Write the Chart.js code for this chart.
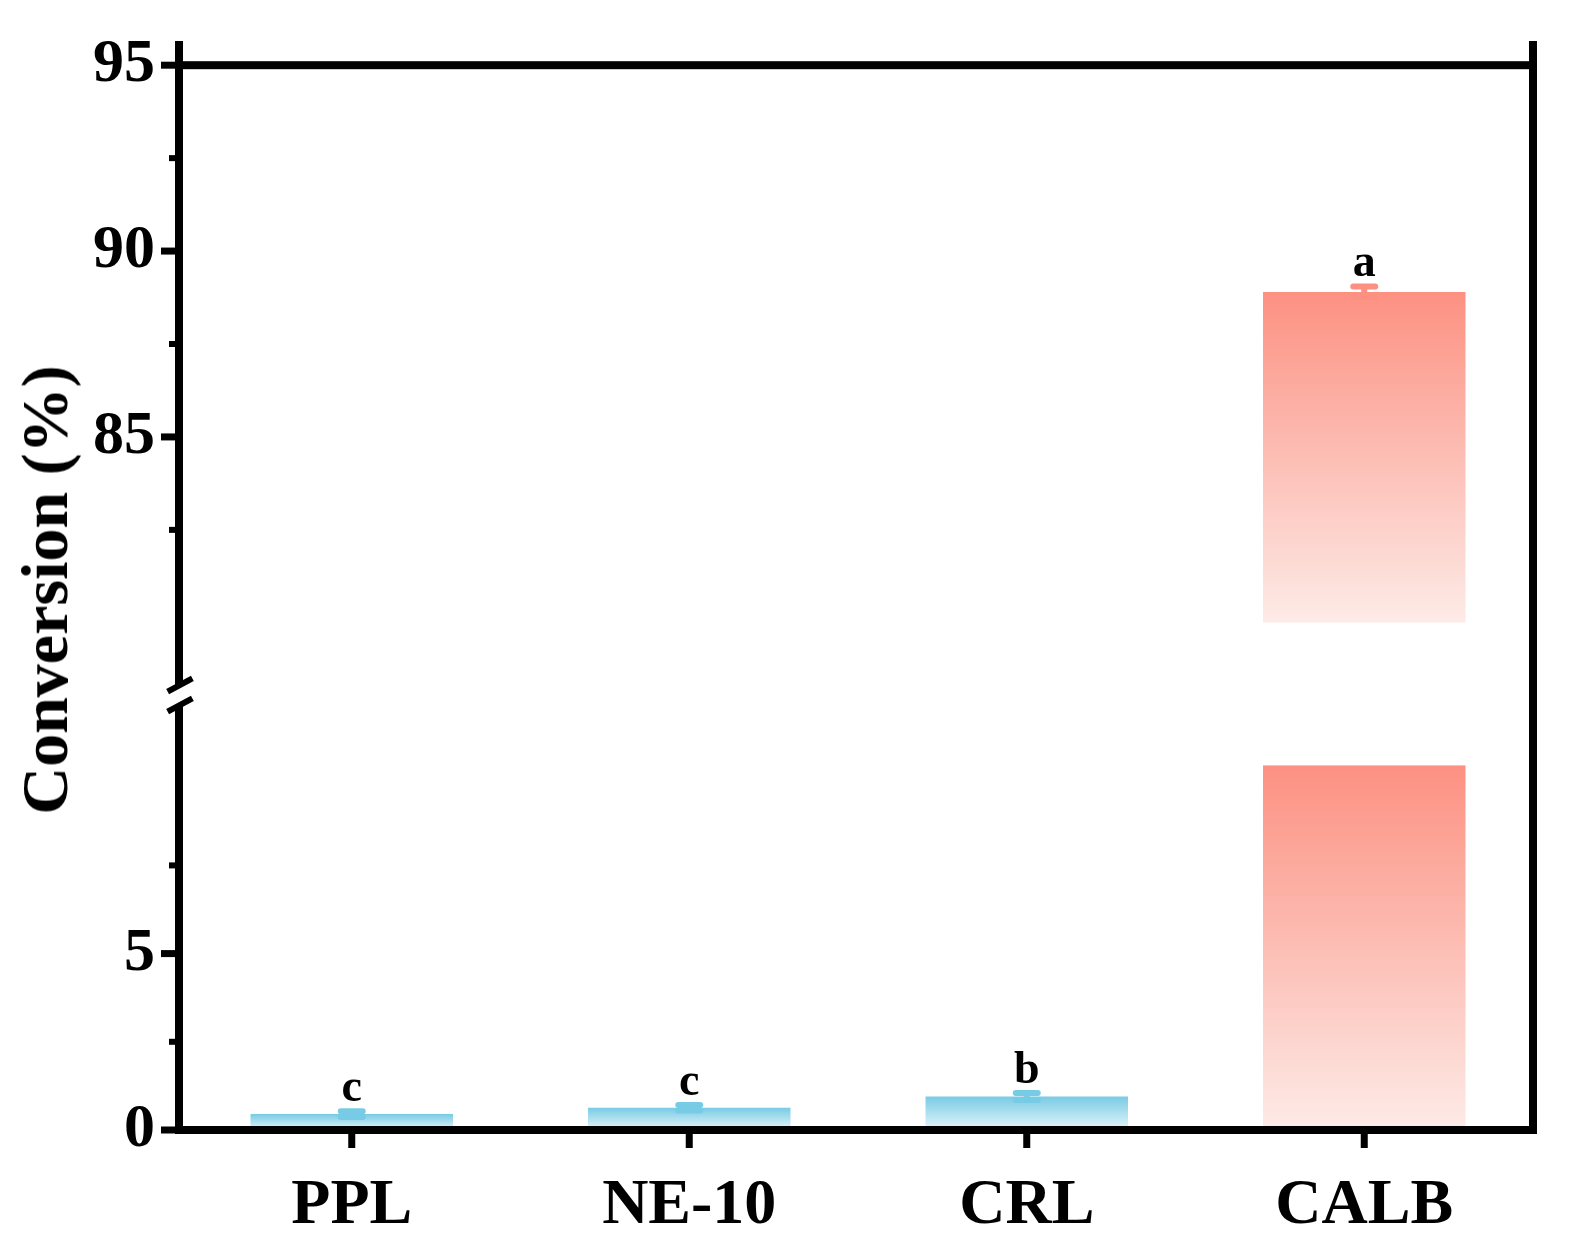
<!DOCTYPE html>
<html><head><meta charset="utf-8">
<script src="https://cdn.jsdelivr.net/npm/chart.js@4/dist/chart.umd.min.js"></script>
<style>
body{margin:0;background:#fff;width:1582px;height:1253px;position:relative;overflow:hidden;font-family:"Liberation Serif",serif;}
canvas{position:absolute;left:0;}
.ln{position:absolute;background:#000;}
#title{position:absolute;left:45px;top:590px;transform:translate(-50%,-50%) rotate(-90deg);font:bold 66px "Liberation Serif";white-space:nowrap;}
</style></head><body>
<canvas id="up" width="1582" height="688" style="top:0;width:1582px;height:688px"></canvas>
<canvas id="lo" width="1582" height="553" style="top:700px;width:1582px;height:553px"></canvas>
<div class="ln" style="left:1529px;top:41px;width:8px;height:1093px"></div>
<div class="ln" style="left:175px;top:41px;width:8px;height:645px"></div>
<div class="ln" style="left:175px;top:706px;width:8px;height:428px"></div>
<div class="ln" style="left:166px;top:682px;width:28px;height:6px;transform:rotate(-28deg)"></div>
<div class="ln" style="left:166px;top:702px;width:28px;height:6px;transform:rotate(-28deg)"></div>
<div id="title">Conversion (%)</div>
<script>
const categories = ['PPL', 'NE-10', 'CRL', 'CALB'];
const values = [0.45, 0.63, 0.95, 88.9];
const errors = [0.08, 0.08, 0.1, 0.15];
const letters = ['c', 'c', 'b', 'a'];
const upperTicks = [85, 90, 95];
const upperMinor = [82.5, 87.5, 92.5];
const lowerTicks = [0, 5];
const lowerMinor = [2.5, 7.5];
const UP_MIN = 80, UP_MAX = 95, LO_MAX = 10.34;

const blue = ['#78cbe4', '#e6f6fb'];
const red = ['#fc9182', '#fdebe7'];
const topColor = v => v > UP_MIN ? red : blue;

function grad(ctx) {
    const chart = ctx.chart, y = chart.scales.y;
    const cols = topColor(values[ctx.dataIndex]);
    if (!y || !chart.chartArea) return cols[0];
    const raw = ctx.raw;
    if (raw == null) return cols[0];
    const top = Array.isArray(raw) ? raw[1] : raw;
    const bot = Array.isArray(raw) ? raw[0] : 0;
    const y0 = y.getPixelForValue(top), y1 = y.getPixelForValue(bot);
    if (!isFinite(y0) || !isFinite(y1) || y0 === y1) return cols[0];
    const g = chart.ctx.createLinearGradient(0, y0, 0, y1);
    g.addColorStop(0, cols[0]); g.addColorStop(1, cols[1]);
    return g;
}

// ticks, frame edges, error bars and letters
const extras = {
    id: 'extras',
    afterDatasetsDraw(chart, args, opts) {
        const c = chart.ctx, y = chart.scales.y, x = chart.scales.x, a = chart.chartArea;
        c.save();
        c.fillStyle = '#000';
        opts.major.forEach(v => c.fillRect(a.left - 22, y.getPixelForValue(v) - 3.5, 18, 7));
        opts.minor.forEach(v => c.fillRect(a.left - 14, y.getPixelForValue(v) - 3, 10, 6));
        if (opts.top) c.fillRect(a.left - 8, a.top - 4, a.right - a.left + 12, 8);
        if (opts.bottom) {
            c.fillRect(a.left - 8, a.bottom - 4, a.right - a.left + 12, 8);
            categories.forEach((_, i) => c.fillRect(x.getPixelForValue(i) - 3.5, a.bottom, 7, 18));
        }
        values.forEach((v, i) => {
            const inUp = v > UP_MIN;
            if (inUp !== !!opts.top) return;
            const px = x.getPixelForValue(i);
            const yt = y.getPixelForValue(v + errors[i]), yb = y.getPixelForValue(v - errors[i]);
            c.strokeStyle = topColor(v)[0]; c.lineWidth = 6; c.lineCap = 'round';
            c.beginPath();
            c.moveTo(px, yt); c.lineTo(px, yb);
            c.moveTo(px - 11, yt); c.lineTo(px + 11, yt);
            c.moveTo(px - 11, yb); c.lineTo(px + 11, yb);
            c.stroke();
            c.fillStyle = '#000';
            c.font = 'bold 46px "Liberation Serif"';
            c.textAlign = 'center'; c.textBaseline = 'alphabetic';
            c.fillText(letters[i], px, yt - 10);
        });
        c.restore();
    }
};

function yAxis(min, max, labels) {
    return {
        min, max,
        afterFit: s => { s.width = 183; },
        afterBuildTicks: s => { s.ticks = labels.map(v => ({ value: v })); },
        grid: { display: false, drawTicks: false },
        border: { display: false },
        ticks: { color: '#000', padding: 28, font: { family: 'Liberation Serif', size: 62, weight: 'bold' } }
    };
}

const common = {
    responsive: false, animation: false, devicePixelRatio: 1,
    plugins: { legend: { display: false }, tooltip: { enabled: false } }
};

new Chart(document.getElementById('up'), {
    type: 'bar',
    data: { labels: categories, datasets: [{ data: values.map(v => v > UP_MIN ? [UP_MIN, v] : null),
        backgroundColor: grad, categoryPercentage: 1, barPercentage: 0.6 }] },
    options: { ...common,
        layout: { autoPadding: false, padding: { left: 0, right: 49, top: 45, bottom: 0 } },
        plugins: { ...common.plugins, extras: { major: upperTicks, minor: upperMinor, top: true } },
        scales: { x: { display: false }, y: yAxis(UP_MIN, UP_MAX, upperTicks) } },
    plugins: [extras]
});

new Chart(document.getElementById('lo'), {
    type: 'bar',
    data: { labels: categories, datasets: [{ data: values.map(v => Math.min(v, LO_MAX)),
        backgroundColor: grad, categoryPercentage: 1, barPercentage: 0.6 }] },
    options: { ...common,
        layout: { autoPadding: false, padding: { left: 0, right: 49, top: 0, bottom: 0 } },
        plugins: { ...common.plugins, extras: { major: lowerTicks, minor: lowerMinor, bottom: true } },
        scales: {
            x: { afterFit: s => { s.height = 123; }, grid: { display: false, drawTicks: false }, border: { display: false },
                 ticks: { color: '#000', padding: 38, font: { family: 'Liberation Serif', size: 64, weight: 'bold' } } },
            y: yAxis(0, LO_MAX, lowerTicks) } },
    plugins: [extras]
});
</script>
</body></html>
